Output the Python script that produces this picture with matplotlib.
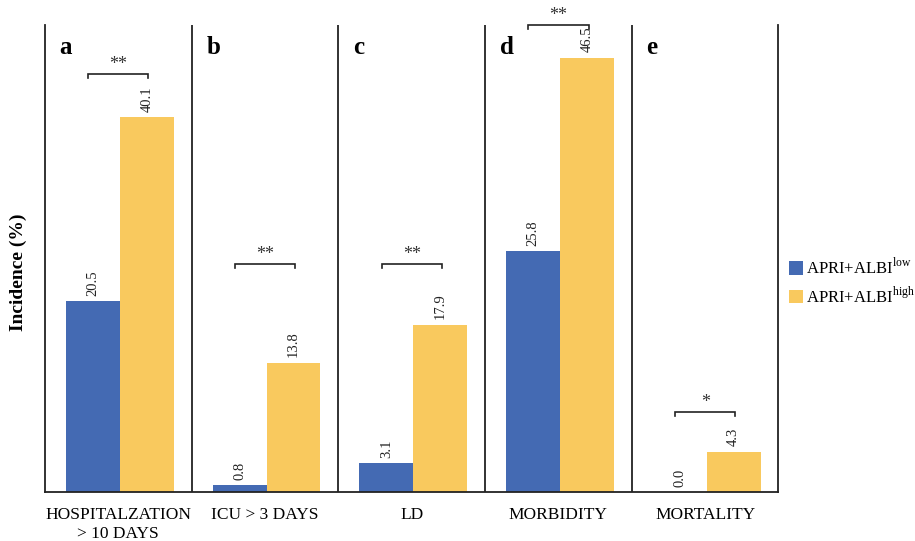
import numpy as np
import matplotlib
matplotlib.use("Agg")
import matplotlib.pyplot as plt

plt.rcParams['font.family'] = ['Liberation Serif', 'DejaVu Serif']
plt.rcParams['mathtext.fontset'] = 'custom'
plt.rcParams['mathtext.rm'] = 'Liberation Serif'

# incidence (%) per outcome
categories = ['HOSPITALZATION\n> 10 DAYS', 'ICU > 3 DAYS', 'LD', 'MORBIDITY', 'MORTALITY']
panel_letters = ['a', 'b', 'c', 'd', 'e']
low_vals = [20.5, 0.8, 3.1, 25.8, 0.0]
high_vals = [40.1, 13.8, 17.9, 46.5, 4.3]
signif = ['**', '**', '**', '**', '*']
bracket_y = [44.8, 24.4, 24.4, 50.0, 8.6]

blue = '#446AB3'
yellow = '#F9C95E'

fig = plt.figure(figsize=(9.15, 5.41), dpi=100)
ax = fig.add_axes([0.0492, 0.0906, 0.8016, 0.8632])

x = np.arange(len(categories))
w = 0.367
xb = x + 0.327
xh = x + 0.694

ax.bar(xb, low_vals, w, color=blue, label='APRI+ALBI$^{\\mathrm{low}}$')
ax.bar(xh, high_vals, w, color=yellow, label='APRI+ALBI$^{\\mathrm{high}}$')

for i in range(len(categories)):
    ax.text(xb[i], low_vals[i] + 0.5, '%.1f' % low_vals[i], rotation=90, ha='center',
            va='bottom', fontsize=10.5, color='#222222')
    ax.text(xh[i], high_vals[i] + 0.6, '%.1f' % high_vals[i], rotation=90, ha='center',
            va='bottom', fontsize=10.5, color='#222222')
    # significance bracket
    x0, x1, y = i + 0.295, i + 0.705, bracket_y[i]
    ax.plot([x0, x0, x1, x1], [y - 0.45, y, y, y - 0.45], color='#222222', lw=1.2,
            clip_on=False, solid_joinstyle='miter')
    ax.text((x0 + x1) / 2, y + 0.1, signif[i], ha='center', va='bottom', fontsize=13,
            color='#333333', clip_on=False)
    # panel letter
    ax.text(i + 0.1, 47.6, panel_letters[i], fontsize=18, fontweight='bold', va='center',
            ha='left')
    if i > 0:
        ax.axvline(i, color='#222222', lw=1.3)

ax.set_xlim(0, 5)
ax.set_ylim(0, 50)
ax.set_xticks(x + 0.5)
ax.set_xticklabels(categories, fontsize=12.5)
ax.tick_params(axis='x', length=0, pad=11)
ax.set_yticks([])
ax.spines['top'].set_visible(False)
for s in ['left', 'right', 'bottom']:
    ax.spines[s].set_linewidth(1.3)
    ax.spines[s].set_color('#222222')

ax.set_ylabel('Incidence (%)', fontsize=14, fontweight='bold')
ax.yaxis.set_label_coords(-0.024, 0.47)

ax.legend(loc='center left', bbox_to_anchor=(1.005, 0.45), frameon=False, fontsize=12,
          handlelength=0.85, handleheight=0.85, handletextpad=0.2, labelspacing=0.5,
          borderaxespad=0)

fig.savefig('out.png', dpi=100)
